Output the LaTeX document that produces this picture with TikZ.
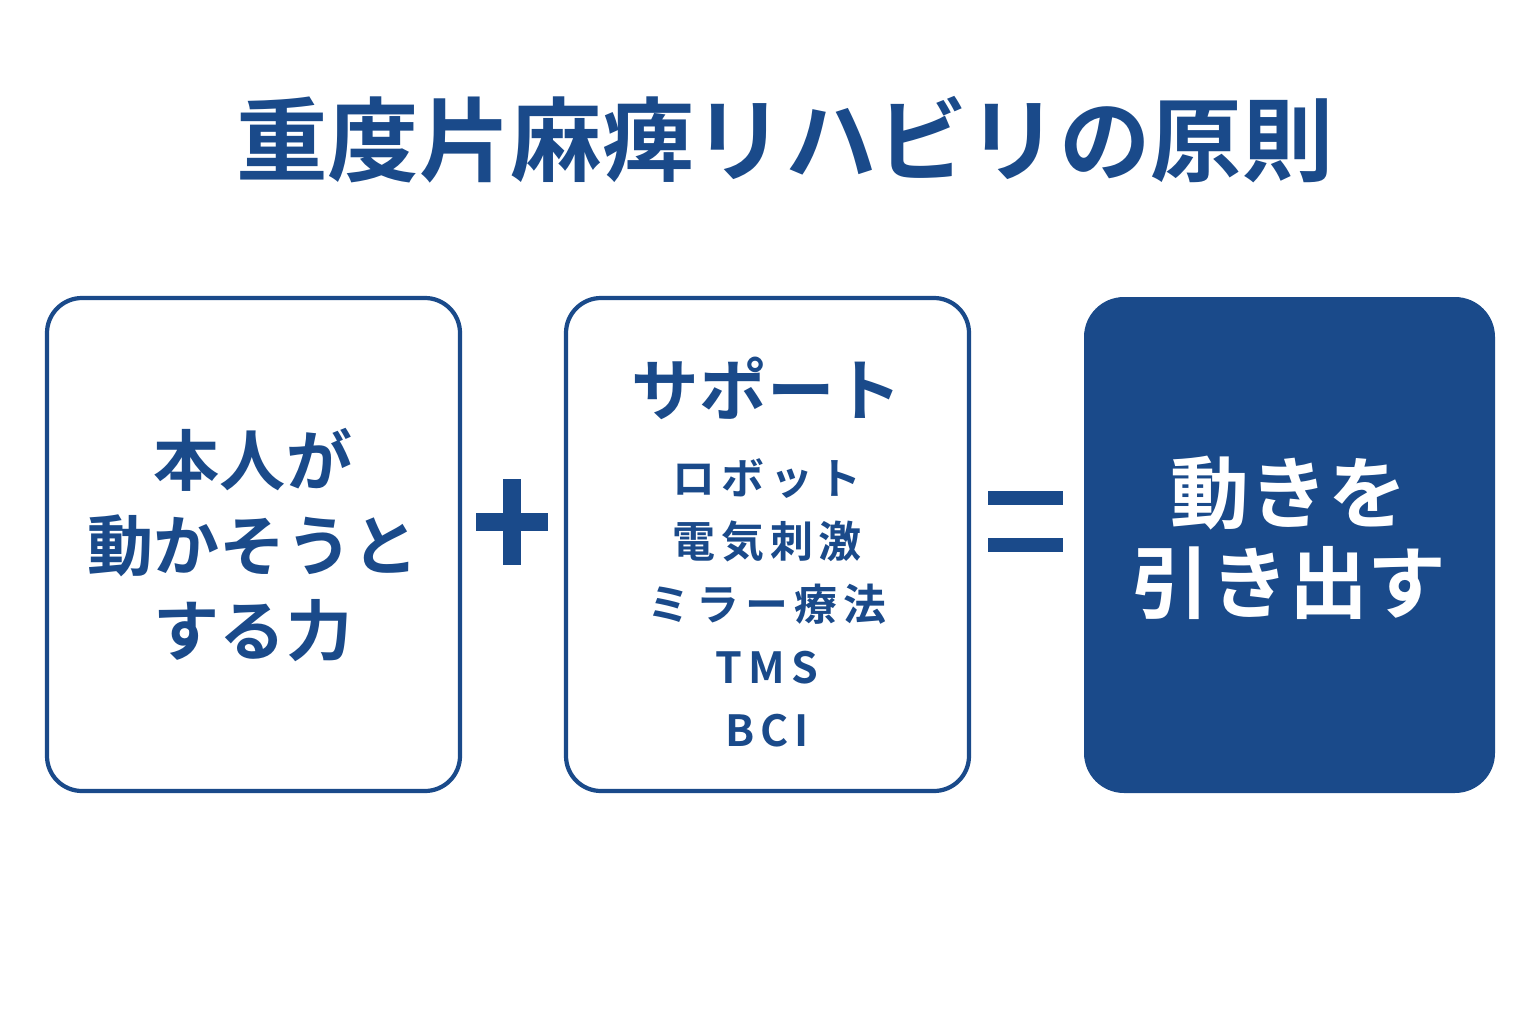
\documentclass[tikz,border=0pt]{standalone}
\usepackage{fontspec}
\newfontfamily\jp{Noto Sans CJK JP}[BoldFont={* Bold}]
\newfontfamily\jpls{Noto Sans CJK JP}[BoldFont={* Bold},LetterSpace=14]
\definecolor{navy}{HTML}{1A4A8A}
\begin{document}
\begin{tikzpicture}[x=0.01cm,y=-0.01cm,
  box/.style={draw=navy,line width=1.2pt,rounded corners=0.35cm,fill=white},
  fbox/.style={fill=navy,rounded corners=0.4cm},
  txt/.style={text=navy,font=\jp\bfseries,align=center,inner sep=0pt},
]
\useasboundingbox[fill=white] (0,0) rectangle (1536,1024);
\node[txt,font=\jp\bfseries\fontsize{26}{32}\selectfont] (title) at (785,140) {重度片麻痺リハビリの原則};
\draw[box] (47,298) rectangle (460,791);
\node[txt,font=\jp\bfseries\fontsize{18.8}{24.2}\selectfont] (left) at (253,545) {本人が\\動かそうと\\する力};
\draw[box] (566,298) rectangle (969,791);
\node[txt,font=\jp\bfseries\fontsize{19.2}{24}\selectfont] (sup) at (767,388) {サポート};
\node[txt,font=\jpls\bfseries\fontsize{12.2}{17.9}\selectfont,anchor=north] (list) at (767,458) {ロボット\\電気刺激\\ミラー療法\\TMS\\BCI};
\fill[fbox] (1084,297) rectangle (1495,793);
\node[txt,text=white,font=\jp\bfseries\fontsize{22.4}{25.5}\selectfont] (right) at (1289,538) {動きを\\引き出す};
% plus
\fill[navy] (503,479) rectangle (521,565);
\fill[navy] (476,513) rectangle (548,531);
% equals
\fill[navy] (988,491) rectangle (1063,505);
\fill[navy] (988,538) rectangle (1063,552);
\end{tikzpicture}
\end{document}
